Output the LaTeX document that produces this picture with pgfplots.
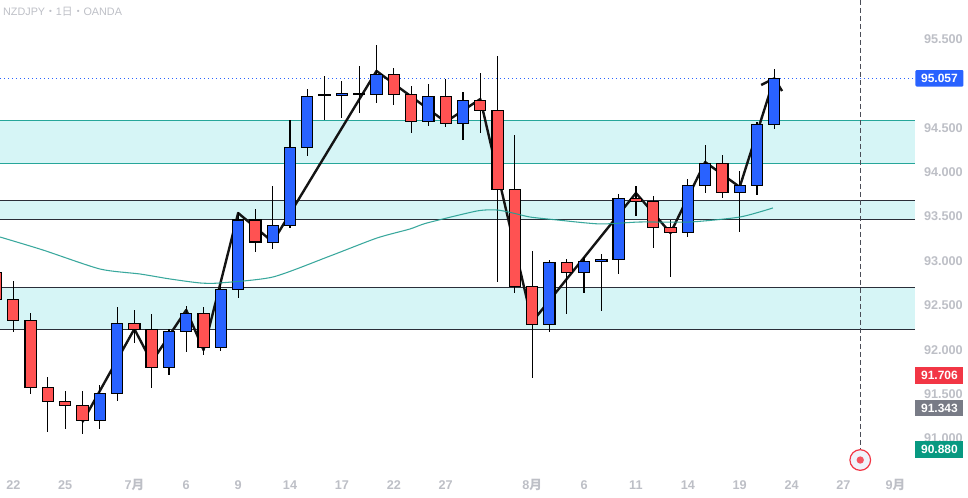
\documentclass[border=0pt]{standalone}
\usepackage{fontspec}
\usepackage{pgfplots}
\usepackage{pgfplotstable}
\pgfplotsset{compat=1.18}
\setmainfont{Liberation Sans}
\newfontfamily\cjk{Noto Sans CJK JP}
\definecolor{cred}{HTML}{FF5252}
\definecolor{cblue}{HTML}{2962FF}
\definecolor{zonefill}{HTML}{D6F5F6}
\definecolor{teal1}{HTML}{26A69A}
\definecolor{darkln}{HTML}{2A2E39}
\definecolor{lbl}{HTML}{BDBFC6}
\definecolor{tagred}{HTML}{F23645}
\definecolor{taggrey}{HTML}{787B86}
\definecolor{taggreen}{HTML}{089981}
\definecolor{ringfill}{HTML}{F0F3FA}
\pgfplotstableread{
i o c h l
0 92.863 92.559 92.863 92.559
1 92.559 92.323 92.765 92.194
2 92.323 91.569 92.402 91.497
3 91.569 91.411 91.685 91.069
4 91.411 91.366 91.527 91.103
5 91.366 91.197 91.527 91.046
6 91.197 91.501 91.591 91.103
7 91.501 92.289 92.472 91.418
8 92.289 92.221 92.439 92.071
9 92.221 91.794 92.394 91.564
10 91.794 92.199 92.225 91.707
11 92.199 92.402 92.484 91.969
12 92.402 92.019 92.472 91.936
13 92.019 92.672 92.743 91.981
14 92.672 93.452 93.542 92.577
15 93.452 93.204 93.575 93.091
16 93.201 93.392 93.834 93.129
17 93.392 94.270 94.577 93.362
18 94.270 94.844 94.923 94.175
19 94.855 94.858 95.072 94.577
20 94.855 94.878 95.016 94.600
21 94.866 94.878 95.185 94.656
22 94.866 95.091 95.421 94.768
23 95.091 94.866 95.162 94.749
24 94.866 94.562 94.960 94.434
25 94.562 94.844 94.982 94.513
26 94.844 94.540 95.039 94.502
27 94.540 94.799 94.892 94.355
28 94.799 94.686 95.106 94.434
29 94.686 93.797 95.297 92.757
30 93.797 92.705 94.408 92.627
31 92.705 92.278 93.103 91.677
32 92.278 92.976 93.001 92.194
33 92.976 92.863 93.013 92.397
34 92.863 92.987 93.035 92.633
35 92.987 93.009 93.066 92.431
36 93.009 93.696 93.741 92.847
37 93.696 93.662 93.831 93.500
38 93.662 93.369 93.722 93.140
39 93.369 93.313 93.452 92.813
40 93.313 93.842 93.910 93.264
41 93.842 94.090 94.292 93.759
42 94.090 93.763 94.180 93.703
43 93.763 93.842 94.000 93.320
44 93.842 94.529 94.555 93.736
45 94.529 95.046 95.148 94.479
}\candles
\begin{document}
\begin{tikzpicture}
\begin{axis}[
  scale only axis, width=726pt, height=373.5pt,
  xmin=0.231, xmax=56.2, ymin=90.3227, ymax=95.9277,
  enlargelimits=false, clip=true,
  axis line style={draw=none}, tick style={draw=none},
  major tick length=0pt,
  xticklabel pos=lower, yticklabel pos=right,
  xtick={1,4,8,11,14,17,20,23,26,31,34,37,40,43,46,49,52},
  xticklabels={22,25,{7{\cjk 月}},6,9,14,17,22,27,{8{\cjk 月}},6,11,14,19,24,27,{9{\cjk 月}}},
  ytick={91,91.5,92,92.5,93,93.5,94,94.5,95.5},
  /pgf/number format/assume math mode=true,
  /pgf/number format/fixed, /pgf/number format/fixed zerofill, /pgf/number format/precision=3,
  /pgf/number format/1000 sep={},
  scaled y ticks=false,
  yticklabel style={anchor=east, inner sep=0pt, xshift=-3.75pt, yshift=-0.6pt, text=lbl, font=\fontsize{9.5}{11}\selectfont\bfseries},
  xticklabel style={anchor=base, inner sep=0pt, yshift=6.5pt, text=lbl, font=\fontsize{9.5}{11}\selectfont\bfseries},
]
% zones
\addplot[fill=zonefill, draw=none] coordinates {(0,94.574)(53.14,94.574)(53.14,94.090)(0,94.090)} -- cycle;
\addplot[fill=zonefill, draw=none] coordinates {(0,93.673)(53.14,93.673)(53.14,93.459)(0,93.459)} -- cycle;
\addplot[fill=zonefill, draw=none] coordinates {(0,92.694)(53.14,92.694)(53.14,92.221)(0,92.221)} -- cycle;
\addplot[teal1, line width=0.8pt] coordinates {(0,94.574)(53.14,94.574)};
\addplot[teal1, line width=0.8pt] coordinates {(0,94.090)(53.14,94.090)};
\addplot[darkln, line width=0.8pt] coordinates {(0,93.673)(53.14,93.673)};
\addplot[darkln, line width=0.8pt] coordinates {(0,93.459)(53.14,93.459)};
\addplot[darkln, line width=0.8pt] coordinates {(0,92.694)(53.14,92.694)};
\addplot[darkln, line width=0.8pt] coordinates {(0,92.221)(53.14,92.221)};
% last price line
\addplot[cblue, line width=0.75pt, dash pattern=on 0.75pt off 2.25pt] coordinates {(0,95.046)(53.14,95.046)};
% vertical dashed line
\addplot[darkln!85, line width=0.75pt, dash pattern=on 3.6pt off 2.4pt] coordinates {(49.97,95.93)(49.97,90.885)};
% zigzag
\addplot[black!92, line width=1.8pt, line join=round] coordinates {
(5,91.178)(8,92.225)(9,91.853)(11,92.439)(12,91.988)(14,93.530)(16,93.204)(22,95.129)(26,94.555)(28,94.813)(31,92.304)(37,93.755)(39,93.305)(41,94.104)(43,93.823)(45,95.046)};
\addplot[black!92, line width=1.8pt, line join=round] coordinates {(44.24,94.971)(45,95.046)(45.45,94.903)};
% wicks
\addplot[draw=none, mark=none, error bars/.cd, y dir=both, y explicit, error mark=none,
  error bar style={line width=0.85pt, black}]
  table[x=i, y=o, y error plus expr=\thisrow{h}-\thisrow{o}, y error minus expr=\thisrow{o}-\thisrow{l}] {\candles};
% bodies: invisible bottom, red height, blue height
\addplot[ybar stacked, bar width=8.4pt, draw=none, fill=none]
  table[x=i, y expr={min(\thisrow{o},\thisrow{c})}] {\candles};
\addplot[ybar stacked, bar width=8.4pt, draw=black, fill=cred, line width=0.85pt]
  table[x=i, y expr={\thisrow{o}>\thisrow{c} ? \thisrow{o}-\thisrow{c} : 0}] {\candles};
\addplot[ybar stacked, bar width=8.4pt, draw=black, fill=cblue, line width=0.85pt]
  table[x=i, y expr={\thisrow{c}>\thisrow{o} ? \thisrow{c}-\thisrow{o} : 0}] {\candles};
% moving average
\addplot[teal1!95!black, line width=0.8pt, smooth, tension=0.4, opacity=0.9] coordinates {
(0.231,93.260)(2.71,93.114)(6.01,92.900)(8.32,92.844)(10.05,92.788)(11.79,92.743)(12.95,92.743)(16.01,92.810)(19.31,93.046)(22.03,93.249)(23.93,93.350)(24.92,93.418)(27.81,93.553)(28.97,93.564)(29.89,93.530)(30.88,93.485)(32.44,93.452)(34.92,93.407)(37.23,93.429)(40.12,93.429)(43.01,93.485)(44.92,93.587)};
% texts and tags
\node[anchor=west, inner sep=0pt, text=lbl, font=\fontsize{8.1}{10}\selectfont] at (rel axis cs:0.003,0.976) {NZDJPY{\cjk ・}1{\cjk 日}{\cjk ・}OANDA};
\node[fill=cblue, text=white, font=\fontsize{9}{11}\selectfont\bfseries, minimum width=36pt, minimum height=12.3pt, inner sep=0pt, rounded corners=0.8pt] at (axis cs:54.55,95.046) {95.057};
\node[fill=tagred, text=white, font=\fontsize{9}{11}\selectfont\bfseries, minimum width=36pt, minimum height=12.5pt, inner sep=0pt] at (axis cs:54.55,91.70) {91.706};
\node[fill=taggrey, text=white, font=\fontsize{9}{11}\selectfont\bfseries, minimum width=36pt, minimum height=12.5pt, inner sep=0pt] at (axis cs:54.55,91.335) {91.343};
\node[fill=taggreen, text=white, font=\fontsize{9}{11}\selectfont\bfseries, minimum width=36pt, minimum height=12.5pt, inner sep=0pt] at (axis cs:54.55,90.872) {90.880};
% circle marker
\node[circle, draw=tagred, fill=ringfill, line width=0.9pt, minimum size=15.5pt, inner sep=0pt] at (axis cs:49.97,90.75) {};
\node[circle, fill=tagred!85, minimum size=5.5pt, inner sep=0pt] at (axis cs:49.97,90.75) {};
\end{axis}
\end{tikzpicture}
\end{document}
